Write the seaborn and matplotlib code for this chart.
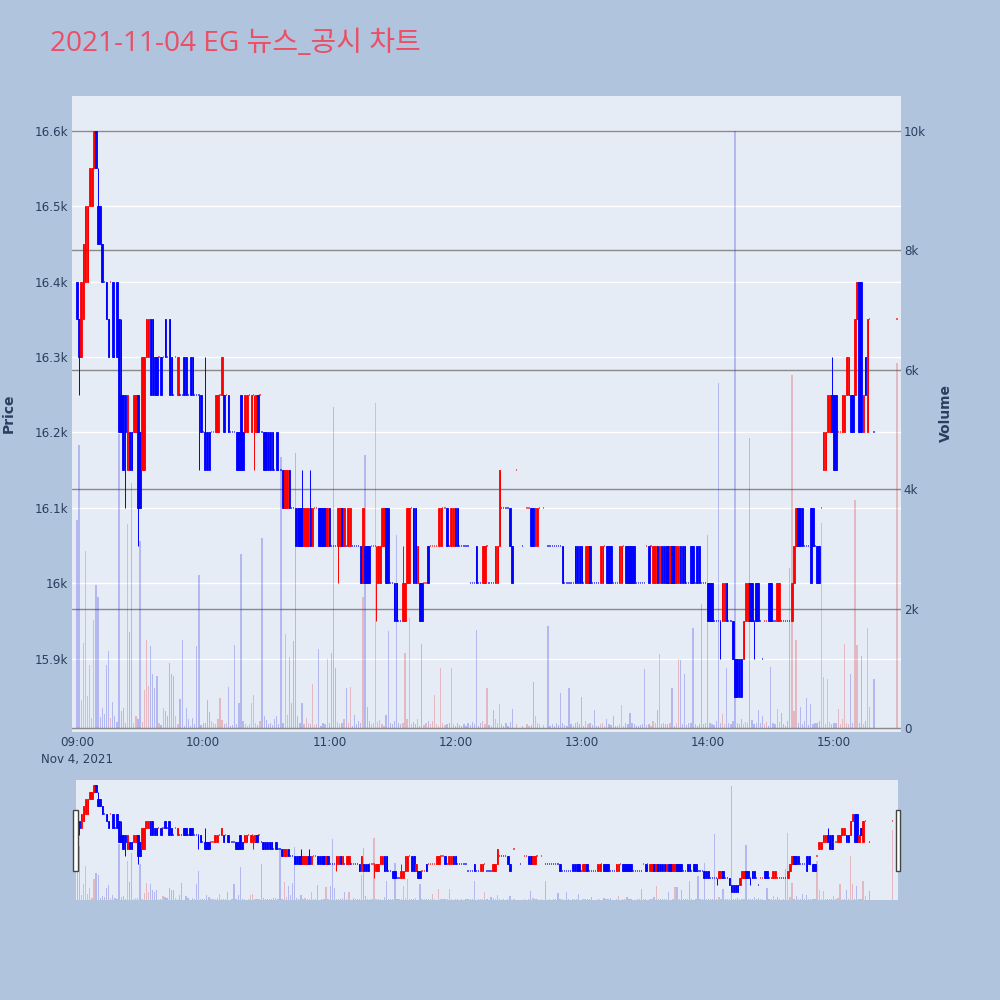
import numpy as np
import pandas as pd
import matplotlib
matplotlib.use("Agg")
import matplotlib.pyplot as plt
from matplotlib.patches import Rectangle
from matplotlib.lines import Line2D
from matplotlib.transforms import blended_transform_factory
import seaborn as sns

# --- one-minute candles from 09:00 (None = no trade in that minute) ---
opens = [
    16400, 16350, 16300, 16350, 16400, 16400, 16500, 16500, 16550, 16600,
    16500, 16500, 16450, 16400, 16400, 16350, 16400, 16400, 16300, 16400,
    16350, 16250, 16250, 16250, 16150, 16200, 16200, 16200, 16200, 16250,
    16200, 16150, 16150, 16300, 16300, 16350, 16350, 16300, 16300, 16300,
    16300, 16300, 16350, 16300, 16350, 16300, 16250, 16300, 16250, 16250,
    16250, 16300, 16300, 16250, 16300, 16300, 16250, 16250, 16250, 16250,
    16200, 16200, 16200, 16200, 16200, 16200, 16200, 16200, 16250, 16250,
    16250, 16250, 16250, 16200, 16200, 16200, 16200, 16200, 16250, 16200,
    16200, 16200, 16250, 16200, 16250, 16200, 16250, 16250, 16200, 16200,
    16200, 16200, 16200, 16200, 16150, 16200, 16150, 16150, 16150, 16100,
    16100, 16150, 16100, 16100, 16100, 16100, 16100, 16100, 16050, 16050,
    16050, 16100, 16050, 16100, 16100, 16100, 16100, 16100, 16100, 16050,
    16100, 16050, 16050, 16050, 16050, 16050, 16100, 16050, 16050, 16050,
    16050, 16050, 16050, 16050, 16050, 16050, 16000, 16050, 16050, 16050,
    16050, 16050, 16050, 16000, 16000, 16050, 16050, 16100, 16100, 16000,
    16000, 16000, 16000, 15950, 15950, 15950, 15950, 16000, 16000, 16100,
    16100, 16100, 16000, 16000, 16000, 16000, 16000, 16050, 16050, 16050,
    16050, 16050, 16050, 16050, 16100, 16100, 16100, 16050, 16050, 16050,
    16100, 16100, 16050, 16050, 16050, 16050, 16050, 16000, 16000, 16000,
    16050, 16000, 16000, 16000, 16000, 16050, 16000, 16000, 16000, 16000,
    16000, 16050, 16100, 16100, 16100, 16100, 16100, 16050, None, 16150,
    None, None, 16050, None, 16100, 16100, 16100, 16100, 16050, 16050,
    16100, None, 16100, None, 16050, 16050, 16050, 16050, 16050, 16050,
    16050, 16050, 16000, 16000, 16000, 16000, 16000, 16050, 16050, 16050,
    16050, 16000, 16000, 16000, 16050, 16000, 16000, 16000, 16000, 16000,
    16000, 16050, 16050, 16050, 16050, 16000, 16000, 16000, 16000, 16000,
    16050, 16050, 16050, 16050, 16050, 16050, 16000, 16000, 16000, 16000,
    16000, 16050, 16050, 16050, 16000, 16000, 16050, 16000, 16050, 16050,
    16050, 16050, 16000, 16050, 16050, 16000, 16000, 16050, 16050, 16050,
    16000, 16000, 16050, 16050, 16000, 16050, 16050, 16000, 16000, 16000,
    16000, 16000, 16000, 15950, 15950, 15950, 15950, 15950, 15950, 16000,
    15950, 15950, 15950, 15900, 15900, 15900, 15900, 15900, 15950, 15950,
    16000, 16000, 15950, 16000, 16000, 15950, 15900, 15950, 15950, 16000,
    16000, 15950, 15950, 15950, 15950, 15950, 15950, 15950, 15950, 15950,
    15950, 16000, 16050, 16100, 16100, 16100, 16050, 16050, 16050, 16100,
    16100, 16050, 16050, 16050, 16100, 16150, 16150, 16200, 16200, 16250,
    16250, 16250, 16200, 16200, 16200, 16200, 16250, 16250, 16250, 16250,
    16250, 16350, 16400, 16400, 16200, 16300, 16200, 16350, None, 16200,
    None, None, None, None, None, None, None, None, None, None,
    16350,
]
closes = [
    16350, 16300, 16400, 16450, 16500, 16500, 16550, 16550, 16600, 16550,
    16450, 16450, 16400, 16400, 16350, 16300, 16400, 16300, 16300, 16300,
    16200, 16200, 16150, 16200, 16250, 16150, 16150, 16250, 16250, 16100,
    16100, 16300, 16300, 16350, 16350, 16250, 16250, 16250, 16250, 16300,
    16250, 16300, 16300, 16300, 16250, 16250, 16250, 16300, 16300, 16250,
    16250, 16250, 16250, 16250, 16250, 16250, 16250, 16250, 16250, 16200,
    16200, 16150, 16150, 16150, 16200, 16200, 16250, 16250, 16250, 16300,
    16200, 16250, 16200, 16200, 16200, 16200, 16150, 16150, 16150, 16150,
    16250, 16250, 16250, 16250, 16250, 16250, 16200, 16250, 16200, 16150,
    16150, 16150, 16150, 16150, 16150, 16150, 16150, 16150, 16100, 16150,
    16150, 16100, 16100, 16100, 16050, 16050, 16050, 16050, 16100, 16100,
    16100, 16050, 16100, 16100, 16100, 16050, 16050, 16050, 16050, 16100,
    16050, 16050, 16050, 16050, 16100, 16100, 16050, 16100, 16050, 16100,
    16100, 16050, 16050, 16050, 16050, 16000, 16100, 16000, 16000, 16000,
    16050, 16050, 16050, 16050, 16050, 16100, 16100, 16000, 16000, 16000,
    16000, 15950, 15950, 15950, 15950, 16000, 16000, 16100, 16100, 16100,
    16000, 16000, 16050, 15950, 15950, 16000, 16000, 16000, 16050, 16050,
    16050, 16050, 16100, 16100, 16100, 16100, 16050, 16050, 16100, 16100,
    16050, 16050, 16050, 16050, 16050, 16050, 16050, 16000, 16000, 16000,
    16000, 16000, 16000, 16050, 16050, 16050, 16000, 16000, 16000, 16050,
    16050, 16150, 16100, 16100, 16100, 16100, 16050, 16000, None, 16150,
    None, None, 16050, None, 16100, 16100, 16050, 16050, 16100, 16100,
    16100, None, 16100, None, 16050, 16050, 16050, 16050, 16050, 16050,
    16050, 16000, 16000, 16000, 16000, 16000, 16000, 16000, 16000, 16000,
    16000, 16000, 16050, 16050, 16000, 16000, 16000, 16000, 16000, 16050,
    16050, 16050, 16000, 16000, 16000, 16000, 16000, 16000, 16050, 16050,
    16050, 16000, 16000, 16000, 16000, 16000, 16000, 16000, 16000, 16000,
    16000, 16050, 16000, 16050, 16050, 16050, 16000, 16050, 16000, 16000,
    16000, 16000, 16050, 16000, 16000, 16050, 16050, 16000, 16000, 16000,
    16000, 16000, 16000, 16000, 16000, 16000, 16000, 16000, 16000, 16000,
    15950, 15950, 15950, 15950, 15950, 15950, 15950, 16000, 16000, 15950,
    15950, 15950, 15900, 15850, 15850, 15850, 15850, 15950, 16000, 16000,
    15950, 15950, 15950, 15950, 15950, 15950, 15900, 15950, 15950, 15950,
    15950, 15950, 15950, 16000, 16000, 15950, 15950, 15950, 15950, 15950,
    16000, 16050, 16100, 16050, 16050, 16050, 16050, 16050, 16050, 16000,
    16050, 16050, 16000, 16000, 16100, 16200, 16200, 16250, 16250, 16200,
    16150, 16150, 16200, 16200, 16250, 16250, 16300, 16300, 16200, 16200,
    16350, 16400, 16200, 16200, 16250, 16250, 16350, 16350, None, 16200,
    None, None, None, None, None, None, None, None, None, None,
    16350,
]
# wicks that reach past the body, keyed by minute
wick_high = {10: 16550, 21: 16350, 61: 16300, 107: 16150, 111: 16150,
             155: 16050, 359: 16300}
wick_low = {1: 16250, 23: 16100, 29: 16050, 58: 16150, 84: 16150,
            124: 16000, 142: 15950, 306: 15900, 322: 15900}
volumes = [
    3480, 4740, 470, 1420, 2960, 540, 1060, 170, 1810, 2390,
    2200, 180, 330, 230, 1060, 1290, 160, 430, 200, 100,
    4930, 280, 330, 90, 3420, 1610, 4100, 90, 200, 150,
    3130, 100, 630, 1480, 700, 1380, 900, 670, 870, 90,
    50, 330, 280, 200, 1090, 900, 870, 200, 60, 480,
    1480, 40, 330, 150, 40, 170, 60, 1380, 2570, 50,
    90, 90, 470, 260, 120, 80, 60, 150, 500, 130,
    60, 90, 690, 40, 50, 1390, 60, 420, 2910, 120,
    70, 40, 60, 420, 560, 90, 50, 110, 3180, 200,
    130, 60, 80, 50, 150, 200, 60, 4540, 90, 1580,
    220, 1190, 420, 1460, 4610, 200, 90, 420, 60, 160,
    80, 70, 730, 50, 60, 1320, 40, 90, 70, 1160,
    90, 1250, 5370, 1010, 100, 60, 80, 150, 670, 90,
    690, 40, 210, 60, 110, 90, 2200, 4570, 360, 120,
    60, 80, 5450, 100, 130, 60, 40, 220, 1630, 80,
    60, 110, 3230, 90, 60, 80, 1250, 150, 1840, 60,
    100, 70, 150, 40, 1400, 50, 80, 120, 60, 110,
    550, 60, 40, 1000, 90, 50, 70, 80, 1000, 60,
    40, 90, 50, 30, 60, 40, 80, 50, 100, 60,
    1640, 40, 80, 120, 60, 670, 50, 40, 300, 150,
    90, 400, 60, 40, 80, 30, 100, 320, 0, 60,
    0, 0, 40, 0, 70, 30, 50, 770, 200, 90,
    60, 0, 50, 0, 1710, 40, 60, 30, 80, 50,
    590, 90, 50, 40, 670, 60, 30, 80, 100, 60,
    520, 40, 120, 60, 80, 50, 300, 40, 30, 60,
    80, 40, 150, 60, 50, 200, 40, 30, 60, 380,
    40, 90, 60, 250, 80, 60, 40, 30, 50, 60,
    990, 50, 60, 40, 120, 80, 300, 1240, 60, 90,
    70, 60, 80, 670, 40, 90, 1150, 1140, 60, 900,
    50, 80, 90, 1675, 60, 40, 70, 2080, 60, 80,
    3230, 90, 60, 50, 120, 5780, 80, 230, 60, 1000,
    80, 60, 120, 10000, 90, 60, 150, 60, 100, 80,
    4860, 130, 60, 90, 300, 80, 200, 60, 100, 40,
    1020, 80, 60, 320, 100, 250, 60, 40, 120, 2680,
    5910, 290, 1470, 80, 350, 60, 120, 500, 50, 400,
    60, 90, 80, 120, 3430, 860, 70, 820, 100, 60,
    80, 90, 320, 60, 150, 1410, 80, 60, 900, 90,
    3820, 1390, 80, 1200, 60, 120, 1670, 350, 0, 820,
    0, 0, 0, 0, 0, 0, 0, 0, 0, 0,
    6110,
]

price_ticks = [15900, 16000, 16100, 16200, 16300, 16400, 16500, 16600]
price_labels = ["15.9k", "16k", "16.1k", "16.2k", "16.3k", "16.4k", "16.5k", "16.6k"]
volume_ticks = [0, 2000, 4000, 6000, 8000, 10000]
volume_labels = ["0", "2k", "4k", "6k", "8k", "10k"]
hour_ticks = [0, 60, 120, 180, 240, 300, 360]
hour_labels = ["09:00\nNov 4, 2021", "10:00", "11:00", "12:00", "13:00", "14:00", "15:00"]

UP, DOWN = "#FF0000", "#0000FF"
PLOT_BG, PAPER_BG = "#E5ECF6", "#B0C4DE"
TEXT = "#2a3f5f"

# --- table of candles ---
df = pd.DataFrame({"minute": np.arange(len(opens)), "open": opens,
                   "close": closes, "volume": volumes})
df = df.dropna(subset=["open"]).reset_index(drop=True)
df["high"] = df[["open", "close"]].max(axis=1)
df["low"] = df[["open", "close"]].min(axis=1)
for m, v in wick_high.items():
    df.loc[df.minute == m, "high"] = v
for m, v in wick_low.items():
    df.loc[df.minute == m, "low"] = v

# direction: flat candles follow the move from the previous close
dirs = []
prev_close, prev_dir = None, "down"
for o, c in zip(df.open, df.close):
    if c > o:
        d = "up"
    elif c < o:
        d = "down"
    elif prev_close is not None and c > prev_close:
        d = "up"
    elif prev_close is not None and c < prev_close:
        d = "down"
    else:
        d = prev_dir
    dirs.append(d)
    prev_close, prev_dir = c, d
df["direction"] = dirs
palette = {"up": UP, "down": DOWN}


def draw_panel(axp, axv, body_w, vol_w):
    sns.barplot(data=df, x="minute", y="volume", hue="direction", palette=palette,
                native_scale=True, dodge=False, width=vol_w, alpha=0.25,
                linewidth=0, errorbar=None, legend=False, ax=axv)
    body = df[df.open != df.close]
    flat = df[df.open == df.close]
    cols = body.direction.map(palette).tolist()
    fcols = flat.direction.map(palette).tolist()
    axp.vlines(df.minute, df.low, df.high, colors=df.direction.map(palette).tolist(),
               linewidth=0.7, zorder=3)
    axp.bar(body.minute, body.close - body.open, bottom=body.open, width=body_w,
            color=cols, edgecolor=cols, linewidth=0.6, zorder=4)
    # flat candles show up as short dashes
    axp.hlines(flat.close, flat.minute - 0.3, flat.minute + 0.3, colors=fcols,
               linewidth=1.1, alpha=0.8, zorder=4)
    axv.set_xlabel("")
    axv.set_ylabel("")
    axp.set_xlabel("")
    axp.set_ylabel("")
    for a in (axp, axv):
        for s in a.spines.values():
            s.set_visible(False)
    # volume layer underneath the candle layer
    axp.set_zorder(2)
    axv.set_zorder(1)
    axp.patch.set_visible(False)
    axv.patch.set_visible(True)
    axv.patch.set_facecolor(PLOT_BG)


sns.set_theme(style="white", rc={"axes.facecolor": PLOT_BG, "figure.facecolor": PAPER_BG})
plt.rcParams["font.family"] = ["DejaVu Sans", "Noto Sans CJK KR"]

fig = plt.figure(figsize=(10, 10), dpi=100, facecolor=PAPER_BG)

# --- main chart ---
ax = fig.add_axes([0.072, 0.268, 0.829, 0.636])
axv = ax.twinx()
draw_panel(ax, axv, body_w=0.75, vol_w=0.6)

ax.set_xlim(-2.38, 391.9)
ax.set_ylim(15803, 16646)
axv.set_ylim(-67, 10586)

ax.set_yticks(price_ticks)
ax.set_yticklabels(price_labels)
axv.set_yticks(volume_ticks)
axv.set_yticklabels(volume_labels)
ax.set_xticks(hour_ticks)
ax.set_xticklabels(hour_labels, linespacing=1.35)

# white price grid sits under the grey volume grid
ax.grid(False)
price_tf = blended_transform_factory(axv.transAxes, ax.transData)
for p in price_ticks:
    axv.add_line(Line2D([0, 1], [p, p], transform=price_tf, color="white",
                        linewidth=1.0, zorder=0.3))
axv.grid(axis="y", color="#8a8a8a", linewidth=1.0, zorder=0.5)
axv.grid(axis="x", visible=False)
ax.tick_params(axis="both", length=0, labelsize=8.6, labelcolor=TEXT, pad=3)
axv.tick_params(axis="y", length=0, labelsize=8.6, labelcolor=TEXT, pad=2)

fig.text(0.009, 0.587, "Price", rotation=90, ha="center", va="center",
         fontsize=10, fontweight="bold", color=TEXT)
fig.text(0.946, 0.587, "Volume", rotation=90, ha="center", va="center",
         fontsize=10, fontweight="bold", color=TEXT)

# --- range slider ---
axs = fig.add_axes([0.076, 0.100, 0.822, 0.120])
axsv = axs.twinx()
draw_panel(axs, axsv, body_w=0.75, vol_w=0.6)
axs.set_xlim(-0.6, 392.7)
axs.set_ylim(15795, 16635)
axsv.set_ylim(0, 10526)
for a in (axs, axsv):
    a.set_xticks([])
    a.set_yticks([])
    a.grid(False)

for hx in (0.0733, 0.8955):
    fig.patches.append(Rectangle((hx, 0.1295), 0.0045, 0.0605, transform=fig.transFigure,
                                 facecolor="white", edgecolor="#444444", linewidth=1.0,
                                 zorder=10))

fig.text(0.0505, 0.9493, "2021-11-04 EG 뉴스_공시 차트", ha="left", va="baseline",
         fontsize=20.2, color="#EA4F66", family=["Open Sans", "Noto Sans CJK KR"])

fig.savefig("out.png", dpi=100, facecolor=PAPER_BG)
